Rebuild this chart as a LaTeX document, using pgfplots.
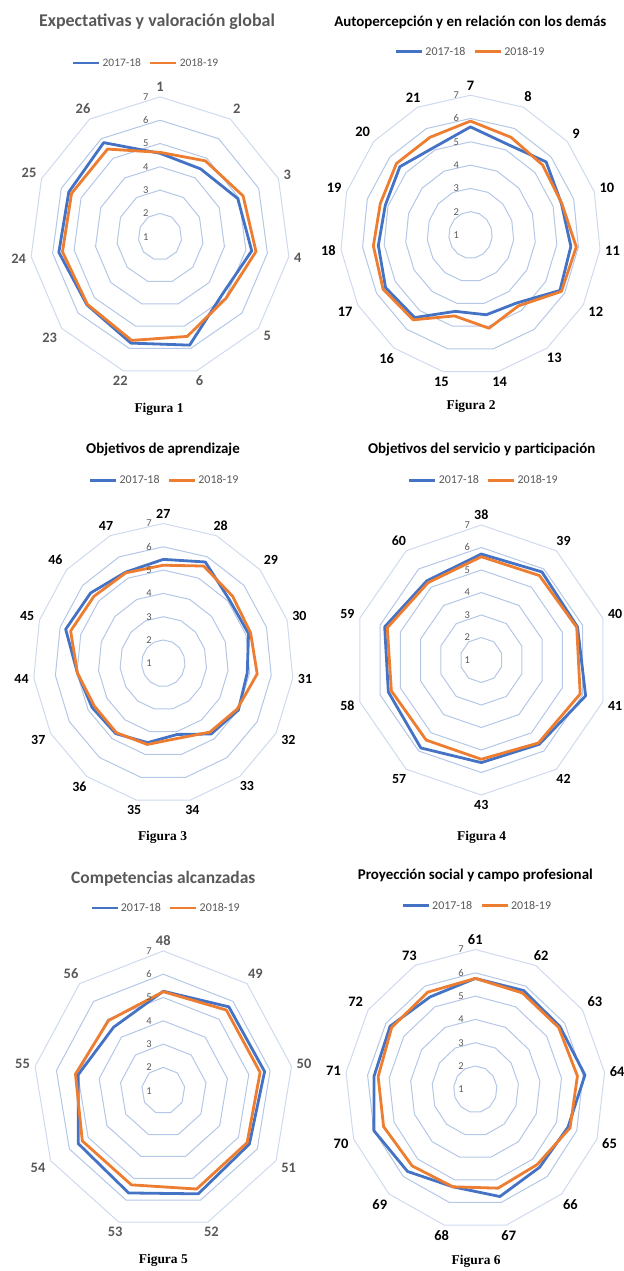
\documentclass[border=0pt]{standalone}
\usepackage{pgfplots}
\pgfplotsset{compat=1.18}
\usepackage{pgfplotstable}
\usepackage{fontspec}
\setmainfont{Carlito}
\newfontfamily\serifb{Liberation Serif}
\definecolor{sblue}{HTML}{4472C4}
\definecolor{sorange}{HTML}{ED7D31}
\definecolor{ringc}{HTML}{B4C7E7}
\definecolor{ringo}{HTML}{CFDAEE}
\definecolor{txtgray}{HTML}{595959}

\pgfplotstableread{
item b o
1 4.58 4.62
2 4.46 4.87
3 4.94 5.21
4 5.27 5.47
5 4.79 5.03
6 5.85 5.46
22 5.76 5.64
23 5.46 5.43
24 5.71 5.54
25 5.62 5.48
26 5.80 5.47
}\tA
\pgfplotstableread{
item b o
7 5.64 5.89
8 5.25 5.59
9 5.69 5.48
10 5.40 5.42
11 5.65 5.90
12 5.76 5.84
13 4.61 4.76
14 4.50 5.09
15 4.35 4.55
16 5.38 5.50
17 5.52 5.65
18 5.27 5.50
19 5.13 5.37
20 5.38 5.59
21 5.12 5.59
}\tB
\pgfplotstableread{
item b o
27 5.46 5.21
28 5.76 5.57
29 5.09 5.30
30 5.13 5.23
31 4.89 5.35
32 5.00 4.93
33 4.75 4.65
34 4.12 4.29
35 4.48 4.56
36 4.73 4.68
37 4.79 4.67
44 4.98 4.98
45 5.73 5.49
46 5.51 5.30
47 5.28 5.25
}\tC
\pgfplotstableread{
item b o
38 5.71 5.59
39 5.84 5.64
40 5.75 5.71
41 6.15 5.88
42 5.63 5.56
43 5.56 5.41
57 5.83 5.40
58 5.59 5.44
59 5.77 5.64
60 5.35 5.25
}\tD
\pgfplotstableread{
item b o
48 5.27 5.25
49 5.70 5.52
50 5.74 5.53
51 5.58 5.46
52 5.71 5.49
53 5.67 5.30
54 5.53 5.31
55 4.98 5.11
56 4.56 4.93
}\tE
\pgfplotstableread{
item b o
61 5.76 5.76
62 5.79 5.67
63 5.74 5.67
64 6.09 5.74
65 5.57 5.67
66 5.47 5.31
67 5.74 5.37
68 5.31 5.31
69 5.71 5.39
70 6.00 5.52
71 5.70 5.51
72 5.77 5.68
73 5.48 5.71
}\tF

\pgfplotsset{
  legend image code/.code={\draw[#1,line width=2.8bp] (0bp,0bp) -- (26bp,0bp);},
  radar/.style={hide axis, clip=false, scale only axis, x=21.7bp, y=23.3bp,
    xmin=-7.5, xmax=7.5, ymin=-7.5, ymax=7.5, anchor=center,
    legend columns=2,
    legend style={draw=none, fill=none, anchor=center, inner sep=0pt,
      font=\fontsize{12}{14}\selectfont, text=txtgray,
      /tikz/every even column/.append style={column sep=6bp}},
  },
  ring/.style={ringc, line width=1bp, forget plot},
  ringout/.style={ringo, line width=1bp, forget plot},
  s17/.style={sblue, line width=2.8bp, line join=round, no markers},
  s18/.style={sorange, line width=2.8bp, line join=round, no markers},
}

\newcommand{\radarrings}[2]{%
  \pgfplotsinvokeforeach{1,2,3,4,5}{%
    \addplot[ring] table[x expr={##1*cos(90-360*\coordindex/#2)}, y expr={##1*sin(90-360*\coordindex/#2)}] {#1} -- cycle;}
  \addplot[ringout] table[x expr={6*cos(90-360*\coordindex/#2)}, y expr={6*sin(90-360*\coordindex/#2)}] {#1} -- cycle;
}
\newcommand{\radarseries}[2]{%
  \addplot[s17] table[x expr={(\thisrow{b}-1)*cos(90-360*\coordindex/#2)}, y expr={(\thisrow{b}-1)*sin(90-360*\coordindex/#2)}] {#1} -- cycle;
  \addlegendentry{2017-18}
  \addplot[s18] table[x expr={(\thisrow{o}-1)*cos(90-360*\coordindex/#2)}, y expr={(\thisrow{o}-1)*sin(90-360*\coordindex/#2)}] {#1} -- cycle;
  \addlegendentry{2018-19}
}
\tikzset{vallab/.style={anchor=east, inner sep=0.5bp, font=\fontsize{10.5}{12}\selectfont, text=txtgray}}
\newcommand{\radarvals}{%
  \node[vallab] at (axis cs:-0.5,0) {1};
  \node[vallab] at (axis cs:-0.5,1) {2};
  \node[vallab] at (axis cs:-0.5,2) {3};
  \node[vallab] at (axis cs:-0.5,3) {4};
  \node[vallab] at (axis cs:-0.5,4) {5};
  \node[vallab] at (axis cs:-0.5,5) {6};
  \node[vallab] at (axis cs:-0.5,6) {7};
}
\def\clabr{6}
\newcommand{\clab}[3]{%
  \pgfmathsetmacro\clabang{90-360*#1/#2}%
  \pgfmathsetmacro\clabx{\clabr*cos(\clabang)}%
  \pgfmathsetmacro\claby{\clabr*sin(\clabang)}%
  \pgfmathsetmacro\clabanc{\clabang+180}%
  \edef\clabtmp{\noexpand\node[catlab,anchor=\clabanc] at (axis cs:\clabx,\claby) {#3};}%
  \clabtmp}
\tikzset{ttl/.style={font=\bfseries\fontsize{15}{17}\selectfont},
  fig/.style={font=\serifb\bfseries\fontsize{13.5}{15}\selectfont}}

\begin{document}
\begin{tikzpicture}
\useasboundingbox (0,0) rectangle (624bp,-1271bp);
% ---------------- Chart 1
\tikzset{catlab/.style={inner sep=5bp, font=\bfseries\fontsize{14.5}{16}\selectfont, text=txtgray}}
\begin{axis}[radar, at={(160bp,-236.7bp)}, legend style={at={(0.457,0.997)}, font=\fontsize{11.5}{13}\selectfont}]
\radarrings{\tA}{11}
\radarseries{\tA}{11}
\radarvals
\foreach \l [count=\i from 0] in {1,2,3,4,5,6,22,23,24,25,26} {\clab{\i}{11}{\l}}
\end{axis}
% ---------------- Chart 2
\tikzset{catlab/.style={inner sep=5bp, font=\bfseries\fontsize{14.5}{16}\selectfont, text=black}}
\begin{axis}[radar, at={(470.5bp,-235bp)}, legend style={at={(0.5,1.024)}}]
\radarrings{\tB}{15}
\radarseries{\tB}{15}
\radarvals
\foreach \l [count=\i from 0] in {7,8,9,10,11,12,13,14,15,16,17,18,19,20,21} {\clab{\i}{15}{\l}}
\end{axis}
% ---------------- Chart 3
\tikzset{catlab/.style={inner sep=5bp, font=\bfseries\fontsize{14}{16}\selectfont, text=black}}
\begin{axis}[radar, at={(163.3bp,-663.3bp)}, legend style={at={(0.504,1.024)}}]
\radarrings{\tC}{15}
\radarseries{\tC}{15}
\radarvals
\foreach \l [count=\i from 0] in {27,28,29,30,31,32,33,34,35,36,37,44,45,46,47} {\clab{\i}{15}{\l}}
\end{axis}
% ---------------- Chart 4
\begin{axis}[radar, x=21.3bp, y=22.5bp, at={(481.3bp,-660bp)}, legend style={at={(0.508,1.033)}}]
\radarrings{\tD}{10}
\radarseries{\tD}{10}
\radarvals
\foreach \l [count=\i from 0] in {38,39,40,41,42,43,57,58,59,60} {\clab{\i}{10}{\l}}
\end{axis}
% ---------------- Chart 5
\tikzset{catlab/.style={inner sep=5bp, font=\bfseries\fontsize{14.5}{16}\selectfont, text=txtgray}}
\begin{axis}[radar, at={(163.3bp,-1090.7bp)}, legend style={at={(0.508,1.023)}}]
\radarrings{\tE}{9}
\radarseries{\tE}{9}
\radarvals
\foreach \l [count=\i from 0] in {48,49,50,51,52,53,54,55,56} {\clab{\i}{9}{\l}}
\end{axis}
% ---------------- Chart 6
\tikzset{catlab/.style={inner sep=5bp, font=\bfseries\fontsize{14.5}{16}\selectfont, text=black}}
\begin{axis}[radar, at={(475.3bp,-1089.3bp)}, legend style={at={(0.506,1.025)}}]
\radarrings{\tF}{13}
\radarseries{\tF}{13}
\radarvals
\foreach \l [count=\i from 0] in {61,62,63,64,65,66,67,68,69,70,71,72,73} {\clab{\i}{13}{\l}}
\end{axis}
% ---------------- titles
\node[ttl, text=txtgray, font=\bfseries\fontsize{18}{20}\selectfont] at (157bp,-22bp) {Expectativas y valoración global};
\node[ttl] at (470.3bp,-22.7bp) {Autopercepción y en relación con los demás};
\node[ttl] at (163bp,-450bp) {Objetivos de aprendizaje};
\node[ttl] at (481.7bp,-449.3bp) {Objetivos del servicio y participación};
\node[ttl, text=txtgray, font=\bfseries\fontsize{17.5}{19}\selectfont] at (163.3bp,-878.3bp) {Competencias alcanzadas};
\node[ttl] at (475.3bp,-875bp) {Proyección social y campo profesional};
% ---------------- captions
\node[fig] at (159bp,-409bp) {Figura 1};
\node[fig] at (471bp,-406bp) {Figura 2};
\node[fig] at (162.5bp,-837.3bp) {Figura 3};
\node[fig] at (481.7bp,-837.3bp) {Figura 4};
\node[fig] at (163.3bp,-1260bp) {Figura 5};
\node[fig] at (476.2bp,-1261.7bp) {Figura 6};
\end{tikzpicture}
\end{document}
